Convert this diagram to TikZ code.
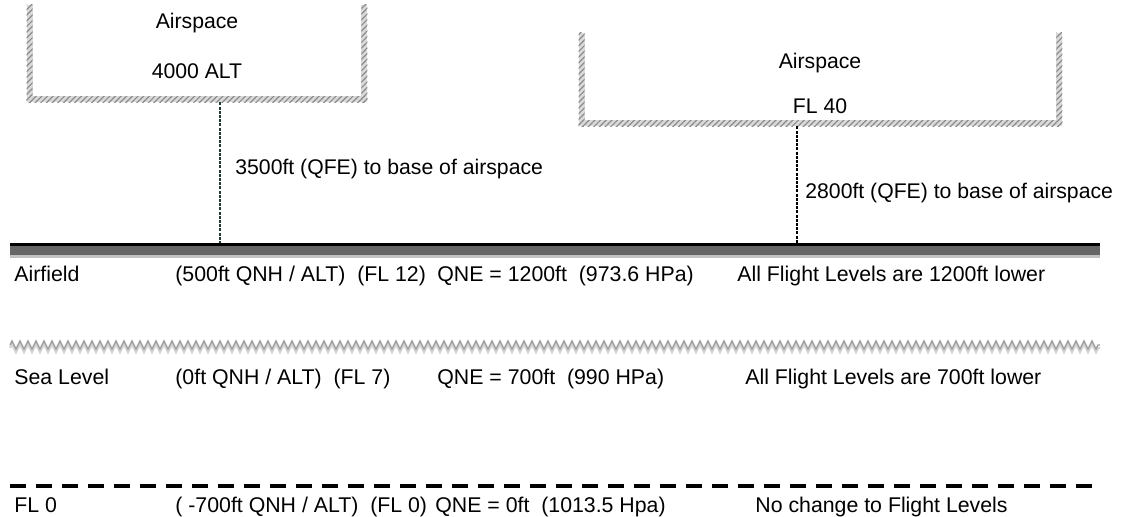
\documentclass[tikz,border=0pt]{standalone}
\usepackage{fontspec}
\setmainfont{Liberation Sans}
\usetikzlibrary{patterns.meta,decorations.pathmorphing}
\definecolor{hatchgray}{HTML}{8C8C8C}
\definecolor{hatchbg}{HTML}{DADADA}
\definecolor{bandgray}{HTML}{666666}
\definecolor{edgegray}{HTML}{C2C2C2}
\definecolor{wavegray}{HTML}{A0A0A0}
\definecolor{wavelight}{HTML}{D4D4D4}
\definecolor{qfegreen}{HTML}{1E3B2E}

\begin{document}
\begin{tikzpicture}[x=0.5pt, y=-0.5pt,
  font=\fontsize{10.6}{12.7}\selectfont,
  lbl/.style={anchor=base west, inner sep=0pt},
  row/.style={lbl, font=\fontsize{10.65}{13}\selectfont},
  ctr/.style={anchor=base, inner sep=0pt},
  asp/.style={inner sep=0pt, draw=none},
  hatch/.style={fill=hatchbg, postaction={pattern={Lines[angle=45,distance=2pt,line width=0.6pt]},
                pattern color=hatchgray}},
  qfe/.style={line width=0.6pt, dash pattern=on 1.5pt off 0.6pt},
  wave/.style={decorate, decoration={zigzag, segment length=4pt, amplitude=2pt}},
  flzero/.style={line width=2pt, dash pattern=on 8pt off 5pt}]
\useasboundingbox (0,0) rectangle (1130,517);

% ---- airspace boxes ---------------------------------------------------
\node[asp, minimum width=170pt, minimum height=48.5pt] (asp1) at (197,53.5) {};
\node[asp, minimum width=241.5pt, minimum height=46.5pt] (asp2) at (820.5,79.5) {};
\foreach \b in {asp1,asp2} {
  \fill[hatch] (\b.north west) rectangle ([xshift=3pt]\b.south west);
  \fill[hatch] (\b.north east) rectangle ([xshift=-3pt]\b.south east);
  \fill[hatch] (\b.south west) rectangle ([yshift=3pt]\b.south east);
}
\node[ctr] (asp1a) at (197,29) {Airspace};
\node[ctr] (asp1b) at (197,79) {4000 ALT};
\node[ctr] (asp2a) at (820,69) {Airspace};
\node[ctr] (asp2b) at (820,114) {FL 40};

% ---- levels -----------------------------------------------------------
\coordinate (afL) at (10,244.5);
\coordinate (afR) at (1100,244.5);
\draw[black, line width=1.5pt] (afL) -- (afR);
\draw[bandgray, line width=4.5pt] ([yshift=-3pt]afL) -- ([yshift=-3pt]afR);
\draw[edgegray, line width=1.5pt] ([yshift=-6pt]afL) -- ([yshift=-6pt]afR);

\coordinate (slL) at (10,345);
\coordinate (slR) at (1100,345);
\draw[wave, wavelight, line width=1.2pt] ([yshift=-1.5pt]slL) -- ([yshift=-1.5pt]slR);
\draw[wave, wavegray, line width=0.7pt] (slL) -- (slR);

\coordinate (flL) at (10,486);
\coordinate (flR) at (1100,486);
\draw[flzero] (flL) -- (flR);

% ---- QFE to base of airspace -------------------------------------------
\coordinate (q1) at (220,243);
\coordinate (q2) at (797,243);
\draw[qfe, qfegreen] (q1 |- asp1.south) -- (q1);
\draw[qfe] (q2 |- asp2.south) -- (q2);
\node[lbl] (qfe1) at (235,175) {3500ft (QFE) to base of airspace};
\node[lbl] (qfe2) at (805,199) {2800ft (QFE) to base of airspace};

% ---- airfield ----------------------------------------------------------
\node[row] (af1) at (14,282) {Airfield};
\node[row] (af2) at (175,282) {(500ft QNH / ALT)~~(FL 12)};
\node[row] (af3) at (437,282) {QNE = 1200ft~~(973.6 HPa)};
\node[row] (af4) at (737,282) {All Flight Levels are 1200ft lower};

% ---- sea level ---------------------------------------------------------
\node[row] (sl1) at (14,385) {Sea Level};
\node[row] (sl2) at (175,385) {(0ft QNH / ALT)~~(FL 7)};
\node[row] (sl3) at (437,385) {QNE = 700ft~~(990 HPa)};
\node[row] (sl4) at (745,385) {All Flight Levels are 700ft lower};

% ---- flight level zero -------------------------------------------------
\node[row] (fl1) at (14,513) {FL 0};
\node[row] (fl2) at (175,513) {( -700ft QNH / ALT)~~(FL 0)};
\node[row] (fl3) at (435,513) {QNE = 0ft~~(1013.5 Hpa)};
\node[row] (fl4) at (755,513) {No change to Flight Levels};
\end{tikzpicture}
\end{document}
